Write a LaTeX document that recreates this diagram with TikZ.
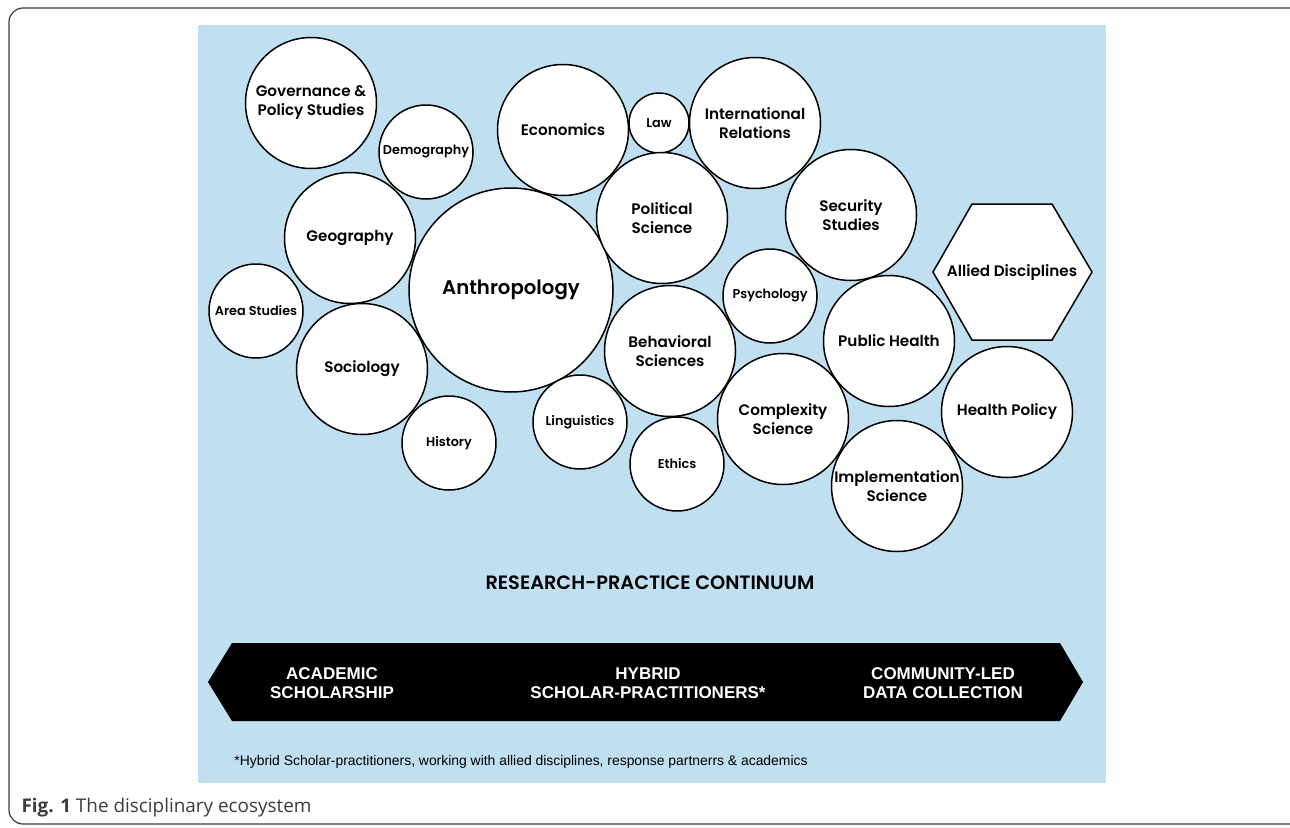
\documentclass[tikz,border=0pt]{standalone}
\usepackage{fontspec}
\setmainfont{Liberation Sans}
\newfontfamily\discfont{Poppins SemiBold}
\newfontfamily\capfont{Open Sans}
\usetikzlibrary{shapes.geometric}
\definecolor{skyback}{RGB}{192,223,241}
\definecolor{capgray}{RGB}{60,60,60}
\begin{document}
\begin{tikzpicture}[x=1pt,y=-1pt,
  disc/.style={circle, draw, fill=white, line width=1.5pt, inner sep=0pt, align=center,
    font=\discfont\fontsize{15.2}{19}\selectfont},
  bigdisc/.style={disc, minimum size=131pt},
  smalldisc/.style={disc, minimum size=94pt, font=\discfont\fontsize{12.8}{15}\selectfont},
  bannertext/.style={text=white, align=center, font=\bfseries\fontsize{17}{19.5}\selectfont}]
\useasboundingbox (0,0) rectangle (1290,827);
\draw[line width=1.2pt, rounded corners=14pt, capgray] (9,8) rectangle (1340,824);
\fill[skyback] (198,25) rectangle (1106,783);
% circles, left to right
\node[bigdisc] (gov) at (311,103){Governance \&\\Policy Studies};
\node[smalldisc] (demo) at (426,152){Demography};
\node[bigdisc] (geo) at (350,238){Geography};
\node[smalldisc] (area) at (256,311){Area Studies};
\node[bigdisc] (soc) at (362,369){Sociology};
\node[smalldisc] (hist) at (449,443){History};
\node[disc, minimum size=204pt, font=\discfont\fontsize{19.7}{22}\selectfont] (anth) at (511,290){Anthropology};
\node[bigdisc] (econ) at (563,130){Economics};
\node[disc, minimum size=60pt, font=\discfont\fontsize{12.8}{15}\selectfont] (law) at (659,123){Law};
\node[bigdisc] (intl) at (755,123){International\\Relations};
\node[bigdisc] (pol) at (662,218){Political\\Science};
\node[bigdisc] (beh) at (670,351){Behavioral\\Sciences};
\node[smalldisc] (ling) at (580,422){Linguistics};
\node[smalldisc] (eth) at (677,464){Ethics};
\node[smalldisc] (psy) at (770,296){Psychology};
\node[bigdisc] (cplx) at (783,419){Complexity\\Science};
\node[bigdisc] (sec) at (851,215){Security\\Studies};
\node[bigdisc] (pubh) at (889,341){Public Health};
\node[bigdisc] (impl) at (897,486){Implementation\\Science};
\node[bigdisc] (hpol) at (1007,412){Health Policy};
% hexagon
\draw[fill=white, line width=1.5pt] (933,272) -- (972,204) -- (1052,204) -- (1092,272) -- (1052,340) -- (972,340) -- cycle;
\node[font=\discfont\fontsize{15.2}{19}\selectfont] (allied) at (1012,273){Allied Disciplines};
% continuum
\node[font=\discfont\fontsize{19.3}{22}\selectfont] (cont) at (650,583){RESEARCH-PRACTICE CONTINUUM};
\fill[black] (208,682) -- (232,643) -- (1060,643) -- (1083,682) -- (1060,721) -- (232,721) -- cycle;
\node[bannertext] (acad) at (332,683){ACADEMIC\\SCHOLARSHIP};
\node[bannertext] (hyb) at (648,683){HYBRID\\SCHOLAR-PRACTITIONERS*};
\node[bannertext] (comm) at (943,683){COMMUNITY-LED\\DATA COLLECTION};
\node[font=\fontsize{13.9}{16}\selectfont] (note) at (521,762){*Hybrid Scholar-practitioners, working with allied disciplines, response partnerrs \& academics};
\node[anchor=west, text=capgray, font=\capfont\fontsize{18.9}{22}\selectfont] (cap) at (18,808){\textbf{Fig. 1} The disciplinary ecosystem};
\end{tikzpicture}
\end{document}
